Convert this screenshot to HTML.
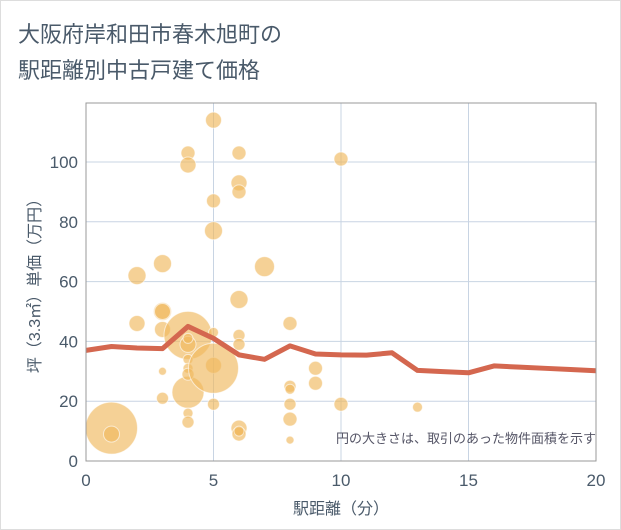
<!DOCTYPE html>
<html><head><meta charset="utf-8"><style>
body{margin:0;background:#fff;}
svg{display:block;font-family:"Liberation Sans","Noto Sans CJK JP",sans-serif;}
</style></head><body>
<svg id="c" width="621" height="530">
<rect x="0.5" y="0.5" width="620" height="529" fill="#fff" stroke="#ddd"/>
<text x="18" y="42" font-size="22" fill="#4a5a6a">大阪府岸和田市春木旭町の</text>
<text x="18" y="78" font-size="22" fill="#4a5a6a">駅距離別中古戸建て価格</text>
<g id="grid"></g>
<g id="bubbles"></g>
<g id="line"></g>
<g id="axes"></g>
<text x="596" y="443" font-size="13" fill="#556" text-anchor="end">円の大きさは、取引のあった物件面積を示す</text>
<text x="341" y="514" font-size="16" fill="#4a5a6a" text-anchor="middle">駅距離（分）</text>
<text transform="translate(40,282) rotate(-90)" font-size="16" fill="#4a5a6a" text-anchor="middle">坪（3.3㎡）単価（万円）</text>
</svg>
<script>
const xTicks=[0,5,10,15,20];
const yTicks=[0,20,40,60,80,100];
const bubbleX=[1,1,2,2,3,3,3,3,3,3,4,4,4,4,4,4,4,4,4,4,4,5,5,5,5,5,5,5,6,6,6,6,6,6,6,6,6,7,8,8,8,8,8,8,9,9,10,10,13];
const bubbleY=[11,9,62,46,66,50,50,44,30,21,103,99,42,39,34,31,23,16,13,29,41,87,77,43,32,19,31,114,103,93,90,54,42,39,11,9,10,65,46,25,24,19,14,7,31,26,101,19,18];
const bubbleR=[26,8,9,8,9,9,8,8,4,6,7,8,24,8,5,5,16,5,6,6,5,7,9,5,8,6,25,8,7,8,7,9,6,6,8,7,5,10,7,6,5,6,7,4,7,7,7,7,5];
const lineX=[0,1,2,3,4,5,6,7,8,9,10,11,12,13,14,15,16,17,18,19,20];
const lineY=[37,38.3,37.8,37.6,45,41,35.5,34,38.5,35.8,35.5,35.4,36.2,30.3,29.9,29.5,31.8,31.4,31,30.6,30.2];
const L=86,R=596,T=103,B=461;
const sx=v=>L+(R-L)*v/20;
const sy=v=>B-(B-162)*v/100;
const NS='http://www.w3.org/2000/svg';
function mk(tag,parent,attrs){const e=document.createElementNS(NS,tag);for(const k in attrs)e.setAttribute(k,attrs[k]);document.getElementById(parent).appendChild(e);return e;}
mk('rect','grid',{x:L,y:T,width:R-L,height:B-T,fill:'#fff'});
xTicks.forEach(t=>{
 const g=mk('line','grid',{x1:sx(t),x2:sx(t),y1:T,y2:B,stroke:'#c8d4e3','stroke-width':1});
 
 
 const tx=mk('text','axes',{x:sx(t),y:B+25,'font-size':17,fill:'#4a5a6a','text-anchor':'middle'});
 tx.textContent=t;
 
 
});
yTicks.forEach(t=>{
 const g=mk('line','grid',{x1:L,x2:R,y1:sy(t),y2:sy(t),stroke:'#c8d4e3','stroke-width':1});
 
 
 const tx=mk('text','axes',{x:L-8,y:sy(t)+6,'font-size':17,fill:'#4a5a6a','text-anchor':'end'});
 tx.textContent=t;
 
 
});
const fr=mk('rect','axes',{x:L,y:T,width:R-L,height:B-T,fill:'none',stroke:'#999','stroke-width':1});


bubbleX.forEach((x,i)=>{
 const c=mk('circle','bubbles',{cx:sx(x),cy:sy(bubbleY[i]),r:bubbleR[i],fill:'rgba(240,184,94,0.65)',stroke:'rgba(255,255,255,0.6)','stroke-width':1});
 
 
});
const p=mk('polyline','line',{points:lineX.map((x,i)=>sx(x)+','+sy(lineY[i])).join(' '),fill:'none',stroke:'#d4674f','stroke-width':5,'stroke-linejoin':'round'});


</script>
</body></html>
